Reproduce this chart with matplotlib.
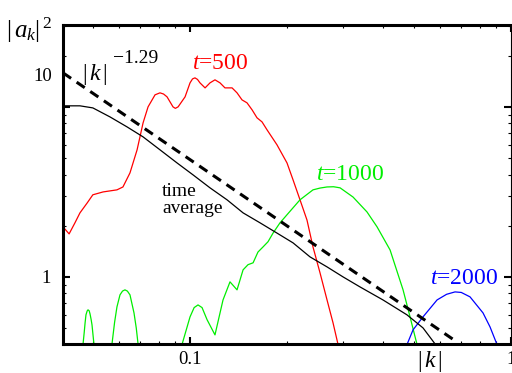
import numpy as np
import matplotlib
matplotlib.use("Agg")
import matplotlib.pyplot as plt

plt.rcParams['font.family'] = ['Liberation Serif', 'DejaVu Serif']
plt.rcParams['mathtext.fontset'] = 'custom'
plt.rcParams['mathtext.rm'] = 'Liberation Serif'
plt.rcParams['mathtext.it'] = 'Liberation Serif:italic'

# t=500 (red)
k500 = [0.0402, 0.0420, 0.0438, 0.0454, 0.0478, 0.0498, 0.0536, 0.0592, 0.0618, 0.0650,
        0.0684, 0.0714, 0.0740, 0.0778, 0.0806, 0.0827, 0.0848, 0.0885, 0.0900, 0.0918,
        0.0965, 0.1000, 0.1018, 0.1036, 0.1055, 0.1074, 0.1114, 0.1154, 0.1196, 0.1240,
        0.1285, 0.1352, 0.1401, 0.1452, 0.1505, 0.1561, 0.1617, 0.1676, 0.1738, 0.1866,
        0.2005, 0.2094, 0.2201, 0.2314, 0.2416, 0.2541, 0.2672, 0.2790, 0.2892]
a500 = [1.97, 1.79, 2.08, 2.38, 2.72, 3.04, 3.16, 3.25, 3.38, 4.09,
        5.59, 8.05, 10.0, 11.77, 12.09, 11.9, 11.45, 10.0, 9.8, 10.0,
        11.45, 13.84, 14.6, 14.81, 14.5, 13.84, 12.93, 13.84, 14.42, 13.84,
        12.93, 12.93, 12.09, 10.99, 10.56, 9.60, 8.62, 8.16, 7.32, 5.98,
        4.68, 3.72, 2.84, 2.16, 1.50, 1.056, 0.732, 0.536, 0.40]

# t=1000 (green), three separate pieces above the bottom of the frame
k1000_a = [0.0464, 0.0468, 0.0471, 0.0474, 0.0478, 0.0481, 0.0485, 0.0488, 0.0492, 0.0495, 0.0502]
a1000_a = [0.40, 0.47, 0.536, 0.598, 0.630, 0.640, 0.632, 0.606, 0.56, 0.522, 0.40]
k1000_b = [0.0571, 0.0582, 0.0592, 0.0605, 0.0616, 0.0627, 0.0638, 0.0650, 0.0669, 0.0680, 0.0689]
a1000_b = [0.40, 0.54, 0.666, 0.784, 0.825, 0.839, 0.825, 0.784, 0.614, 0.50, 0.40]
k1000_c = [0.0944, 0.1000, 0.1030, 0.1059, 0.1090, 0.1130, 0.1196, 0.1267, 0.1332, 0.1401,
           0.1463, 0.1516, 0.1572, 0.1628, 0.1688, 0.1750, 0.1814, 0.1907, 0.2005, 0.2201,
           0.2416, 0.2541, 0.2672, 0.2800, 0.2934, 0.3219, 0.3559, 0.3825, 0.4200, 0.4610,
           0.4847, 0.5096]
a1000_c = [0.40, 0.582, 0.660, 0.684, 0.660, 0.560, 0.456, 0.732, 0.935, 0.839,
           1.10, 1.18, 1.21, 1.40, 1.50, 1.61, 1.81, 2.08, 2.32, 2.84,
           3.25, 3.33, 3.38, 3.39, 3.34, 2.95, 2.41, 1.97, 1.44, 0.839,
           0.582, 0.40]

# t=2000 (blue)
k2000 = [0.4742, 0.4952, 0.5320, 0.5884, 0.6300, 0.6693, 0.7000, 0.7453, 0.8181, 0.8603, 0.9046]
a2000 = [0.40, 0.488, 0.582, 0.732, 0.790, 0.816, 0.810, 0.763, 0.614, 0.508, 0.40]

# time average (black)
k_avg = [0.0402, 0.0454, 0.0498, 0.0563, 0.0636, 0.0714, 0.0806, 0.0911, 0.1022, 0.1154,
         0.1304, 0.1463, 0.1652, 0.1866, 0.2094, 0.2365, 0.2672, 0.2997, 0.3385, 0.3991,
         0.4742, 0.5320, 0.5796]
a_avg = [10.14, 10.14, 9.86, 8.73, 7.63, 6.66, 5.59, 4.68, 3.98, 3.34,
         2.84, 2.38, 2.08, 1.81, 1.585, 1.311, 1.145, 1.0, 0.873, 0.732,
         0.598, 0.501, 0.404]

# power law |k|^-1.29 (dashed), end points
k_fit = [0.0402, 0.684]
a_fit = [15.85, 0.41]

fig = plt.figure(figsize=(5.12, 3.73), dpi=100)
ax = fig.add_axes([63/512, 29/373, 448/512, 319/373])
ax.set_xscale('log')
ax.set_yscale('log')

ax.plot(k500, a500, color='#ff0000', lw=0.9)
ax.plot(k1000_a, a1000_a, color='#00ee00', lw=0.9)
ax.plot(k1000_b, a1000_b, color='#00ee00', lw=0.9)
ax.plot(k1000_c, a1000_c, color='#00ee00', lw=0.9)
ax.plot(k2000, a2000, color='#0000ff', lw=0.9)
ax.plot(k_avg, a_avg, color='black', lw=0.9)
ax.plot(k_fit, a_fit, color='black', lw=2.2, dashes=(3.2, 2.2))

ax.set_xlim(0.0402, 1.0)
ax.set_ylim(0.403, 30.3)

ax.set_xticks([0.1, 1], ['0.1', '1'])
ax.set_yticks([1, 10], ['1', ''])
ax.tick_params(which='both', direction='in', top=True, right=True, labelsize=13.5, pad=5)
ax.tick_params(axis='y', pad=9)
ax.tick_params(which='major', length=5, width=1.5)
ax.tick_params(which='minor', length=2.5, width=0.8)
ax.xaxis.set_minor_formatter(matplotlib.ticker.NullFormatter())
ax.yaxis.set_minor_formatter(matplotlib.ticker.NullFormatter())

for side in ['left', 'bottom', 'top']:
    ax.spines[side].set_linewidth(2.2)
ax.spines['right'].set_linewidth(0.8)

# "10" label sits higher than the tick in the reference
ax.annotate('10', xy=(0, 10), xycoords=('axes fraction', 'data'),
            xytext=(-8, 22), textcoords='offset points', ha='right', va='center', fontsize=13.5)

fig.text(6/512, 1 - 30/373, r'$|\,a_k|^{\,2}$', fontsize=18, ha='left', va='center')
fig.text(430/512, 1 - 362/373, r'$|\,k\,|$', fontsize=17, ha='center', va='center')

ax.text(0.0461, 15.6, r'$|\,k\,|$', fontsize=17, ha='left', va='center')
ax.text(0.0575, 19.2, '\u22121.29', fontsize=14, ha='left', va='center')
ax.text(0.1240, 17.9, r'$t$=500', fontsize=17, color='#ff0000', ha='center', va='center')
ax.text(0.315, 3.98, r'$t$=1000', fontsize=17, color='#00ee00', ha='center', va='center')
ax.text(0.714, 0.973, r'$t$=2000', fontsize=17, color='#0000ff', ha='center', va='center')
ax.text(0.0818, 2.85, 'time\naverage', fontsize=14, ha='left', va='center', linespacing=1.0)

fig.savefig('out.png', dpi=100)
